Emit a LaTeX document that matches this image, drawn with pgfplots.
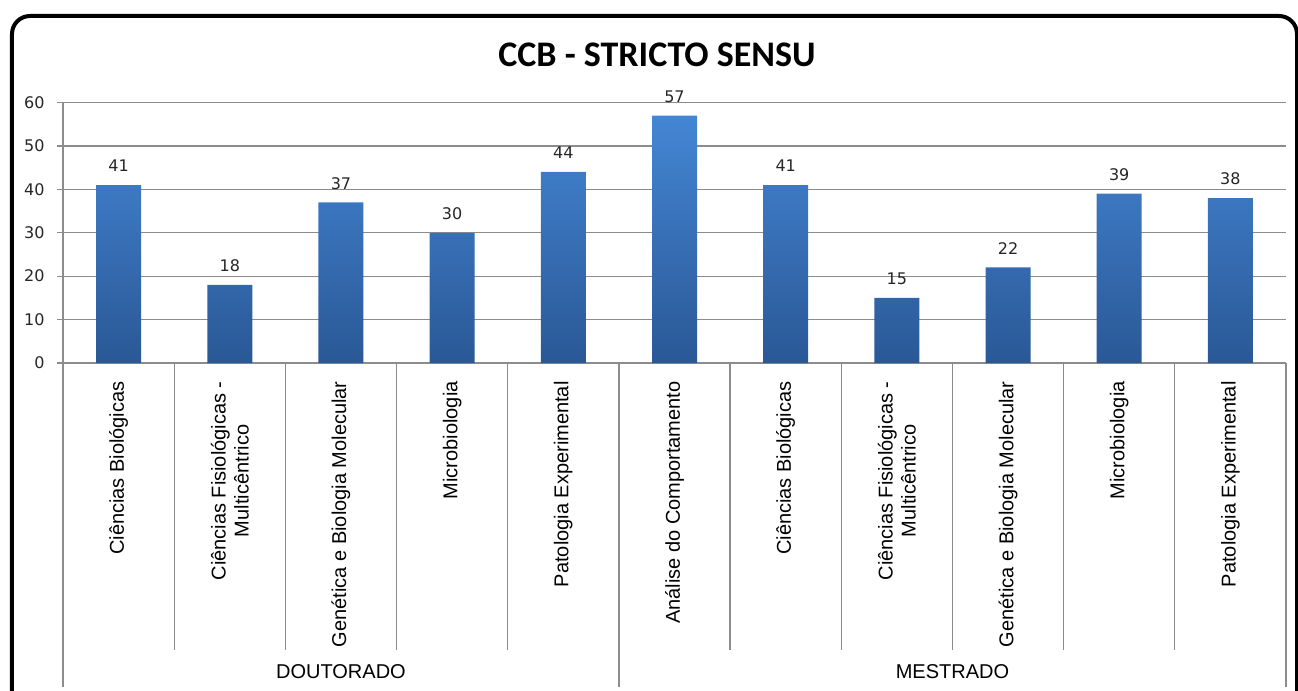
\documentclass[border=0pt]{standalone}
\usepackage{pgfplots}
\pgfplotsset{compat=1.18}
\usepackage{fontspec}
\setmainfont{Liberation Sans}
\newfontfamily\tahoma{DejaVu Sans}
\newfontfamily\calibri{Carlito}
\definecolor{barTop}{RGB}{68,134,212}
\definecolor{barBot}{RGB}{42,88,150}
\definecolor{gridc}{RGB}{140,140,140}

\begin{document}
\begin{tikzpicture}
\begin{axis}[
  at={(0,0)}, anchor=south west,
  scale only axis, width=611.5pt, height=130.25pt,
  xmin=-0.5, xmax=10.5, ymin=0, ymax=60,
  ybar, bar width=22.5pt,
  clip=false,
  axis x line*=bottom, axis y line*=left,
  axis line style={gridc, line width=0.6pt},
  ymajorgrids, grid style={gridc, line width=0.6pt},
  ytick={0,10,...,60},
  tick align=outside, major tick length=3pt,
  ytick style={gridc, line width=0.6pt},
  xtick style={draw=none},
  xtick={0,...,10},
  xticklabels={Ciências Biológicas, {Ciências Fisiológicas -\\Multicêntrico}, Genética e Biologia Molecular, Microbiologia, Patologia Experimental, Análise do Comportamento, Ciências Biológicas, {Ciências Fisiológicas -\\Multicêntrico}, Genética e Biologia Molecular, Microbiologia, Patologia Experimental},
  xticklabel style={font=\fontsize{10}{11.5}\selectfont, rotate=90, anchor=east, align=center, inner xsep=6pt, inner ysep=0pt},
  yticklabel style={font=\tahoma\fontsize{8}{9.5}\selectfont, text=black!85, inner sep=0pt, xshift=-6pt},
  /pgf/number format/assume math mode=true,
  nodes near coords,
  every node near coord/.append style={font=\tahoma\fontsize{8}{9.5}\selectfont, text=black!85, yshift=3pt},
]
\addplot[draw=none, top color=barTop, bottom color=barBot]
  coordinates {(0,41) (1,18) (2,37) (3,30) (4,44) (5,57) (6,41) (7,15) (8,22) (9,39) (10,38)};

% category separators below the axis
\pgfplotsinvokeforeach{0.5,1.5,2.5,3.5,5.5,6.5,7.5,8.5,9.5}{
  \draw[gridc, line width=0.6pt] (axis cs:#1,0) -- ([yshift=-143.5pt]axis cs:#1,0);
}
\pgfplotsinvokeforeach{-0.5,4.5,10.5}{
  \draw[gridc, line width=0.6pt] (axis cs:#1,0) -- ([yshift=-162pt]axis cs:#1,0);
}
\node[font=\fontsize{10}{12}\selectfont] at ([yshift=-154.5pt]axis cs:2,0) {DOUTORADO};
\node[font=\fontsize{10}{12}\selectfont] at ([yshift=-154.5pt]axis cs:7.5,0) {MESTRADO};
\end{axis}

% pixel frame of the reference (1 px = 0.5pt), axis origin at px (63,363)
\begin{scope}[x=0.5pt,y=-0.5pt,shift={(-31.5pt,181.5pt)}]
  \node[font=\calibri\bfseries\fontsize{18}{20}\selectfont] at (657,55) {CCB - STRICTO SENSU};
  \begin{scope}
    \clip (0,0) rectangle (1298,691);
    \draw[line width=2pt, rounded corners=9pt] (12,16) rectangle (1297,730);
  \end{scope}
  \pgfresetboundingbox
  \path (0,0) rectangle (1298,691);
\end{scope}
\end{tikzpicture}
\end{document}
